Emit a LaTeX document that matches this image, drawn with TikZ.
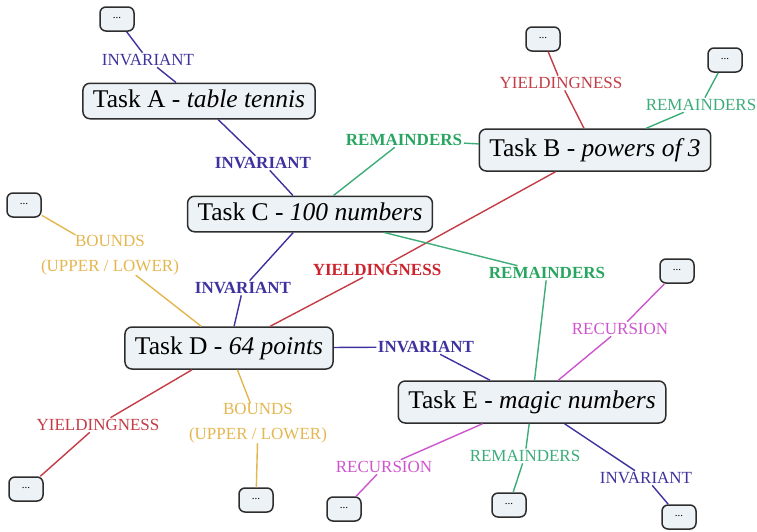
\documentclass[tikz,border=0pt]{standalone}
\usepackage{fontspec}
\setmainfont{Liberation Serif}
\definecolor{invblue}{RGB}{62,50,158}
\definecolor{remgreen}{RGB}{40,165,95}
\definecolor{remlight}{RGB}{60,172,120}
\definecolor{yieldred}{RGB}{205,35,45}
\definecolor{yieldlight}{RGB}{195,60,70}
\definecolor{boundgold}{RGB}{228,182,80}
\definecolor{recpink}{RGB}{205,85,205}
\definecolor{boxfill}{RGB}{236,242,245}
\definecolor{boxline}{RGB}{45,45,45}
\tikzset{
  task/.style={draw=boxline, fill=boxfill, line width=1.5pt, rounded corners=7pt,
    font=\fontsize{25.5}{28}\selectfont, inner xsep=10pt, inner ysep=6pt,
    text height=18pt, text depth=5.5pt},
  tall/.style={minimum height=42pt},
  leaf/.style={draw=boxline, fill=boxfill, line width=1.5pt, rounded corners=6pt,
    minimum width=34pt, minimum height=24pt, inner sep=0pt,
    font=\fontsize{11}{12}\selectfont},
  lbl/.style={font=\fontsize{17}{25}\selectfont, inner sep=1.5pt,
    text height=11.3pt, text depth=0pt},
  lblb/.style={lbl, font=\fontsize{17}{25}\selectfont\bfseries},
  blbl/.style={font=\fontsize{17}{25}\selectfont, inner sep=0pt, align=center},
  edge/.style={line width=1.4pt},
}
\begin{document}
\begin{tikzpicture}[x=1pt, y=-1pt]
\useasboundingbox (0,0) rectangle (757,531);

% main tasks
\node[task] (A) at (199,101) {Task A - \textit{table tennis}};
\node[task, tall] (B) at (595,150) {Task B - \textit{powers of 3}};
\node[task] (C) at (310,214) {Task C - \textit{100 numbers}};
\node[task, tall] (D) at (229,348) {Task D - \textit{64 points}};
\node[task, tall] (E) at (532,402) {Task E - \textit{magic numbers}};

% open ends
\node[leaf] (a1) at (117,19) {\raisebox{2pt}{...}};
\node[leaf] (b1) at (543,39) {\raisebox{2pt}{...}};
\node[leaf] (b2) at (725,60) {\raisebox{2pt}{...}};
\node[leaf] (d1) at (24,205) {\raisebox{2pt}{...}};
\node[leaf] (d2) at (26,489) {\raisebox{2pt}{...}};
\node[leaf] (d3) at (256,500) {\raisebox{2pt}{...}};
\node[leaf] (e1) at (677,271) {\raisebox{2pt}{...}};
\node[leaf] (e2) at (344,509) {\raisebox{2pt}{...}};
\node[leaf] (e3) at (509,505) {\raisebox{2pt}{...}};
\node[leaf] (e4) at (679,517) {\raisebox{2pt}{...}};

% relation labels
\node[lbl, text=invblue] (l1) at (148,60) {INVARIANT};
\node[lblb, text=invblue] (l2) at (263,163) {INVARIANT};
\node[lblb, text=remgreen] (l3) at (404,140) {REMAINDERS};
\node[lbl, text=yieldlight] (l4) at (561,83) {YIELDINGNESS};
\node[lbl, text=remlight] (l5) at (701,105) {REMAINDERS};
\node[blbl, text=boundgold] (l6) at (110,255) {BOUNDS\\(UPPER / LOWER)};
\node[lblb, text=invblue] (l7) at (243,288) {INVARIANT};
\node[lblb, text=yieldred] (l8) at (377,270) {YIELDINGNESS};
\node[lblb, text=remgreen] (l9) at (547,273) {REMAINDERS};
\node[lblb, text=invblue] (l10) at (426,347) {INVARIANT};
\node[lbl, text=recpink] (l11) at (620,329) {RECURSION};
\node[lbl, text=yieldlight] (l12) at (98,425) {YIELDINGNESS};
\node[blbl, text=boundgold] (l13) at (258,423) {BOUNDS\\(UPPER / LOWER)};
\node[lbl, text=recpink] (l14) at (384,467) {RECURSION};
\node[lbl, text=remlight] (l15) at (525,456) {REMAINDERS};
\node[lbl, text=invblue] (l16) at (646,478) {INVARIANT};

% connectors
\draw[edge, invblue] (a1) -- (l1) -- (A);
\draw[edge, invblue] (A) -- (l2) -- (C);
\draw[edge, remlight] (C) -- (l3) -- (B);
\draw[edge, yieldlight] (B) -- (l4) -- (b1);
\draw[edge, remlight] (B) -- (l5) -- (b2);
\draw[edge, boundgold] (d1) -- (l6) -- (D);
\draw[edge, invblue] (C) -- (l7) -- (D);
\draw[edge, yieldlight] (B) -- (l8) -- (D);
\draw[edge, remlight] (C) -- (l9) -- (E);
\draw[edge, invblue] (D) -- (l10) -- (E);
\draw[edge, recpink] (E) -- (l11) -- (e1);
\draw[edge, yieldlight] (D) -- (l12) -- (d2);
\draw[edge, boundgold] (D) -- (l13) -- (d3);
\draw[edge, recpink] (E) -- (l14) -- (e2);
\draw[edge, remlight] (E) -- (l15) -- (e3);
\draw[edge, invblue] (E) -- (l16) -- (e4);
\end{tikzpicture}
\end{document}
